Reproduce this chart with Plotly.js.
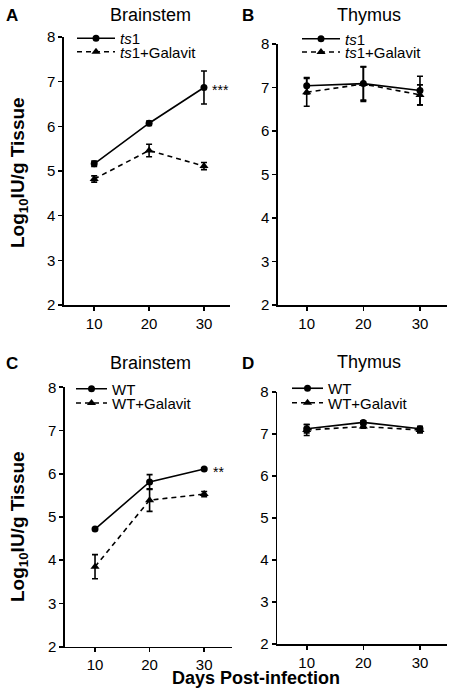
<!DOCTYPE html>
<html>
<head>
<meta charset="utf-8">
<script src="https://cdn.plot.ly/plotly-3.0.1.min.js"></script>
<style>html,body{margin:0;padding:0;background:#fff;}#chart{width:450px;height:694px;}</style>
</head>
<body>
<div id="chart"></div>
<script>
// ---- data ----
const days = [10, 20, 30];

// Panel A: Brainstem, ts1
const A_ts1 = [5.16, 6.07, 6.87];
const A_ts1_err = [0.06, 0.05, 0.37];
const A_gal = [4.82, 5.46, 5.11];
const A_gal_err = [0.07, 0.14, 0.08];

// Panel B: Thymus, ts1
const B_ts1 = [7.04, 7.09, 6.93];
const B_ts1_err = [0.19, 0.38, 0.33];
const B_gal = [6.89, 7.08, 6.83];
const B_gal_err = [0.32, 0.40, 0.23];

// Panel C: Brainstem, WT
const C_wt = [4.72, 5.81, 6.11];
const C_wt_err = [0.02, 0.17, 0.02];
const C_gal = [3.85, 5.39, 5.53];
const C_gal_err = [0.28, 0.26, 0.06];

// Panel D: Thymus, WT
const D_wt = [7.12, 7.27, 7.12];
const D_wt_err = [0.10, 0.04, 0.06];
const D_gal = [7.09, 7.17, 7.09];
const D_gal_err = [0.13, 0.04, 0.07];

const panelTitles = ["Brainstem", "Thymus", "Brainstem", "Thymus"];
const panelLetters = ["A", "B", "C", "D"];
const seriesNames = ["<i>ts</i>1", "<i>ts</i>1+Galavit", "WT", "WT+Galavit"];
const yTicks = [2, 3, 4, 5, 6, 7, 8];
const xTicks = [10, 20, 30];

// ---- styling ----
const FONT = "Liberation Sans, Arial, Helvetica, sans-serif";

function solid(y, err, xa, ya, name, leg) {
  return {
    x: days, y: y, xaxis: xa, yaxis: ya, name: name, legend: leg,
    type: 'scatter', mode: 'lines+markers',
    line: {color: '#000', width: 1.6},
    marker: {symbol: 'circle', size: 7, color: '#000'},
    error_y: {type: 'data', array: err, visible: true, color: '#000', thickness: 1.6, width: 3},
    cliponaxis: false
  };
}
function dashed(y, err, xa, ya, name, leg) {
  return {
    x: days, y: y, xaxis: xa, yaxis: ya, name: name, legend: leg,
    type: 'scatter', mode: 'lines+markers',
    line: {color: '#000', width: 1.6, dash: '5px,4px'},
    marker: {symbol: 'triangle-up', size: 8, color: '#000'},
    error_y: {type: 'data', array: err, visible: true, color: '#000', thickness: 1.6, width: 3},
    cliponaxis: false
  };
}

const data = [
  solid(A_ts1, A_ts1_err, 'x', 'y', seriesNames[0], 'legend'),
  dashed(A_gal, A_gal_err, 'x', 'y', seriesNames[1], 'legend2'),
  solid(B_ts1, B_ts1_err, 'x2', 'y2', seriesNames[0], 'legend3'),
  dashed(B_gal, B_gal_err, 'x2', 'y2', seriesNames[1], 'legend4'),
  solid(C_wt, C_wt_err, 'x3', 'y3', seriesNames[2], 'legend5'),
  dashed(C_gal, C_gal_err, 'x3', 'y3', seriesNames[3], 'legend6'),
  solid(D_wt, D_wt_err, 'x4', 'y4', seriesNames[2], 'legend7'),
  dashed(D_gal, D_gal_err, 'x4', 'y4', seriesNames[3], 'legend8')
];

function xax(domain, range, anchor) {
  return {
    domain: domain, range: range, anchor: anchor,
    showline: true, linecolor: '#000', linewidth: 1.6,
    ticks: 'outside', ticklen: 4, tickwidth: 1.6, tickcolor: '#000',
    tickvals: xTicks, showgrid: false, zeroline: false,
    tickfont: {family: FONT, size: 15, color: '#000'}
  };
}
function yax(domain, anchor) {
  return {
    domain: domain, range: [2, 8], anchor: anchor,
    showline: true, linecolor: '#000', linewidth: 1.6,
    ticks: 'outside', ticklen: 4, tickwidth: 1.6, tickcolor: '#000',
    tickvals: yTicks, showgrid: false, zeroline: false,
    tickfont: {family: FONT, size: 15, color: '#000'}
  };
}

const W = 450, H = 694;
const px = v => v / W;
const py = v => 1 - v / H;

function leg(xPix, yPix, iw) {
  return {
    x: px(xPix), y: py(yPix), xanchor: 'left', yanchor: 'middle',
    bgcolor: 'rgba(0,0,0,0)', borderwidth: 0, itemwidth: iw,
    font: {family: FONT, size: 15, color: '#000'}
  };
}

const annText = (text, x, y, size, bold) => ({
  text: bold ? '<b>' + text + '</b>' : text,
  xref: 'paper', yref: 'paper', x: px(x), y: py(y),
  xanchor: 'center', yanchor: 'middle', showarrow: false,
  font: {family: FONT, size: size, color: '#000'}
});

const annotations = [
  annText(panelLetters[0], 12, 15, 17, true),
  annText(panelLetters[1], 248, 15, 17, true),
  annText(panelLetters[2], 12, 363, 17, true),
  annText(panelLetters[3], 248, 363, 17, true),
  annText(panelTitles[0], 150, 15, 18, false),
  annText(panelTitles[1], 369, 15, 18, false),
  annText(panelTitles[2], 150, 363, 18, false),
  annText(panelTitles[3], 369, 362, 18, false),
  Object.assign(annText('Log<sub>10</sub>IU/g Tissue', 19, 173, 19, true), {textangle: -90}),
  Object.assign(annText('Log<sub>10</sub>IU/g Tissue', 19, 527, 19, true), {textangle: -90}),
  annText('Days Post-infection', 256, 678, 18, true),
  {text: '***', xref: 'x', yref: 'y', x: days[2], y: A_ts1[2], xanchor: 'left', yanchor: 'middle',
   xshift: 6, yshift: -3, showarrow: false, font: {family: FONT, size: 14, color: '#000'}},
  {text: '**', xref: 'x3', yref: 'y3', x: days[2], y: C_wt[2], xanchor: 'left', yanchor: 'middle',
   xshift: 7, yshift: -3, showarrow: false, font: {family: FONT, size: 14, color: '#000'}}
];

const layout = {
  width: W, height: H,
  margin: {l: 0, r: 0, t: 0, b: 0},
  paper_bgcolor: '#fff', plot_bgcolor: 'rgba(0,0,0,0)',
  font: {family: FONT, color: '#000'},
  showlegend: true,
  xaxis: xax([px(64), px(230)], [4.5, 34.74], 'y'),
  yaxis: yax([py(305), py(37)], 'x'),
  xaxis2: xax([px(278), px(447)], [4.93, 34.77], 'y2'),
  yaxis2: yax([py(305), py(44)], 'x2'),
  xaxis3: xax([px(65), px(232)], [4.5, 35.1], 'y3'),
  yaxis3: yax([py(646.7), py(387.3)], 'x3'),
  xaxis4: xax([px(277.3), px(447)], [4.81, 34.77], 'y4'),
  yaxis4: yax([py(644), py(391.7)], 'x4'),
  legend: leg(72, 38.5, 38),
  legend2: leg(72, 52, 38),
  legend3: leg(297, 39, 38),
  legend4: leg(297, 52.3, 38),
  legend5: leg(71, 389, 31),
  legend6: leg(71, 403.3, 31),
  legend7: leg(287, 388.5, 31),
  legend8: leg(287, 403, 31),
  annotations: annotations
};

Plotly.newPlot('chart', data, layout, {displayModeBar: false, staticPlot: true});
</script>
</body>
</html>
